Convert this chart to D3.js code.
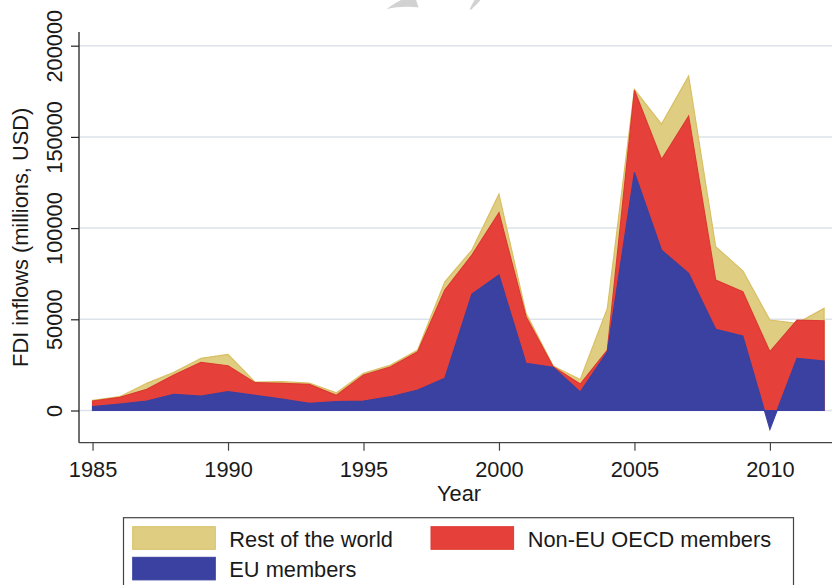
<!DOCTYPE html>
<html>
<head>
<meta charset="utf-8">
<script src="https://cdn.jsdelivr.net/npm/d3@7"></script>
<style>
  html, body { margin: 0; padding: 0; background: #fff; }
  svg { display: block; }
  text { font-family: "Liberation Sans", Arial, Helvetica, sans-serif; fill: #1a1a1a; }
</style>
</head>
<body>
<svg id="chart" width="832" height="585"></svg>
<script>
// FDI inflows by origin, millions of USD
const years = [1985, 1986, 1987, 1988, 1989, 1990, 1991, 1992, 1993, 1994,
               1995, 1996, 1997, 1998, 1999, 2000, 2001, 2002, 2003, 2004,
               2005, 2006, 2007, 2008, 2009, 2010, 2011, 2012];

const euMembers = [2080, 3560, 5200, 8870, 7950, 10300, 8330, 6300, 3940, 4820,
                   5200, 7560, 11230, 17640, 63830, 74240, 25850, 23670, 10140, 32220,
                   130500, 87940, 75170, 44490, 40820, -10300, 28600, 27120];

const nonEuOecd = [3120, 3670, 6400, 10580, 18450, 14250, 6900, 8600, 10410, 3510,
                   14250, 16440, 20970, 48360, 21370, 34160, 25550, 330, 4380, 930,
                   45100, 49660, 86230, 27010, 24280, 42520, 20990, 22080];

const restOfWorld = [400, 330, 3300, 1450, 2200, 6250, 370, 900, 720, 1420,
                     930, 930, 950, 4570, 2740, 10200, 1850, 380, 2470, 22850,
                     400, 19400, 21900, 18250, 11500, 17370, -1790, 6800];

const yTicks = [0, 50000, 100000, 150000, 200000];
const xTicks = [1985, 1990, 1995, 2000, 2005, 2010];

const seriesNames = ["Rest of the world", "Non-EU OECD members", "EU members"];
const fills   = ["#dfcd82", "#e5403a", "#3a41a0"];
const strokes = ["#d9bf64", "#dc3a30", "#3a41a0"];

const fontSize = "21.8px";

// cumulative tops: EU, EU + non-EU OECD, total
const rows = years.map((yr, i) => ({
  year: yr,
  eu: euMembers[i],
  oecd: euMembers[i] + nonEuOecd[i],
  total: euMembers[i] + nonEuOecd[i] + restOfWorld[i]
}));

const svg = d3.select("#chart");
const plotL = 79, plotR = 839, plotT = 32, plotB = 442.7;

const x = d3.scaleLinear().domain([1984.5, 2012.55]).range([plotL, plotR]);
const y = d3.scaleLinear().domain([-17650, 207500]).range([plotB, plotT]);

// horizontal gridlines
svg.append("g")
  .selectAll("line")
  .data(yTicks)
  .join("line")
  .attr("x1", plotL).attr("x2", plotR)
  .attr("y1", d => y(d)).attr("y2", d => y(d))
  .attr("stroke", "#dde3ea")
  .attr("stroke-width", 1.5);

// overlaid areas, each filled from zero
const keys = ["total", "oecd", "eu"];
keys.forEach((k, i) => {
  const area = d3.area()
    .x(d => x(d.year))
    .y0(y(0))
    .y1(d => y(d[k]));
  svg.append("path")
    .datum(rows)
    .attr("d", area)
    .attr("fill", fills[i])
    .attr("stroke", strokes[i])
    .attr("stroke-width", 1.2)
    .attr("stroke-linejoin", "miter");
});

// y axis
const yAxis = svg.append("g")
  .attr("transform", `translate(${plotL},0)`)
  .call(d3.axisLeft(y).tickValues(yTicks).tickSize(8).tickPadding(0).tickFormat(d3.format("d")));
yAxis.select(".domain").attr("stroke", "#222").attr("stroke-width", 1.3).attr("d", `M0,${plotT}V${plotB}`);
yAxis.selectAll(".tick line").attr("stroke", "#222").attr("stroke-width", 1.2);
yAxis.selectAll(".tick text")
  .attr("x", 0).attr("y", 0).attr("dy", null)
  .attr("transform", "translate(-17,0) rotate(-90)")
  .attr("text-anchor", "middle")
  .style("font-size", fontSize)
  .style("font-family", "'Liberation Sans', Arial, sans-serif")
  .attr("fill", "#1a1a1a");

// x axis
const xAxis = svg.append("g")
  .attr("transform", `translate(0,${plotB})`)
  .call(d3.axisBottom(x).tickValues(xTicks).tickSize(8).tickPadding(11).tickFormat(d3.format("d")));
xAxis.select(".domain").attr("stroke", "#444").attr("stroke-width", 1.3).attr("d", `M${plotL},0H${plotR}`);
xAxis.selectAll(".tick line").attr("stroke", "#444").attr("stroke-width", 1.2);
xAxis.selectAll(".tick text")
  .style("font-size", fontSize)
  .style("font-family", "'Liberation Sans', Arial, sans-serif")
  .attr("fill", "#1a1a1a");

// axis titles
svg.append("text")
  .attr("transform", `translate(27.5,${(plotT + plotB) / 2}) rotate(-90)`)
  .attr("text-anchor", "middle")
  .style("font-size", fontSize)
  .text("FDI inflows (millions, USD)");

svg.append("text")
  .attr("x", (plotL + plotR) / 2)
  .attr("y", 500.5)
  .attr("text-anchor", "middle")
  .style("font-size", fontSize)
  .text("Year");

// legend
const legend = svg.append("g");
legend.append("rect")
  .attr("x", 123.5).attr("y", 517.7)
  .attr("width", 670).attr("height", 80)
  .attr("fill", "#fff")
  .attr("stroke", "#444")
  .attr("stroke-width", 1.2);

const legendItems = [
  { idx: 0, sx: 132.7, sy: 526.7, tx: 229.3, ty: 546.7 },
  { idx: 1, sx: 431,   sy: 526.7, tx: 527.7, ty: 546.7 },
  { idx: 2, sx: 132.7, sy: 557.3, tx: 229.3, ty: 576.7 }
];
legendItems.forEach(it => {
  legend.append("rect")
    .attr("x", it.sx).attr("y", it.sy)
    .attr("width", 82.6).attr("height", 22.6)
    .attr("fill", fills[it.idx])
    .attr("stroke", strokes[it.idx])
    .attr("stroke-width", 1);
  legend.append("text")
    .attr("x", it.tx).attr("y", it.ty)
    .style("font-size", fontSize)
    .text(seriesNames[it.idx]);
});

// faint decorative mark at the top edge
svg.append("path")
  .attr("d", "M386.5,9.2 C392,5 397,2 401,0 L416,0 C417,3 418,5 418.5,7.5 C408,6.2 396,7 386.5,9.2 Z")
  .attr("fill", "#d2d2d2");
svg.append("path")
  .attr("d", "M469.5,9.5 C471,6 473,3 474.5,0 L480.5,0 C478,3.5 474,6.5 471.5,9.5 Z")
  .attr("fill", "#d2d2d2");
</script>
</body>
</html>
